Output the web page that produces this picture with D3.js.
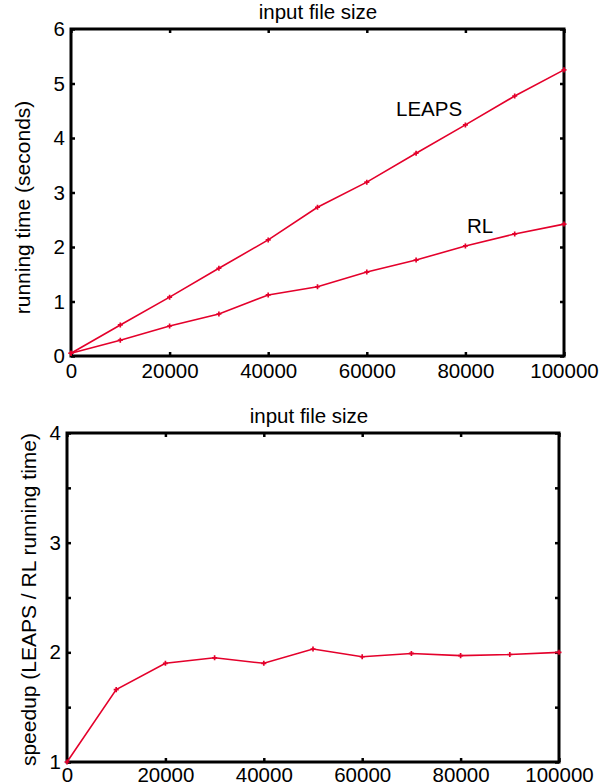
<!DOCTYPE html>
<html>
<head>
<meta charset="utf-8">
<script src="https://cdn.jsdelivr.net/npm/d3@7"></script>
<style>
  body { margin: 0; background: #fff; }
  text { font-family: "Liberation Sans", Arial, Helvetica, sans-serif; }
</style>
</head>
<body>
<div id="chart"></div>
<script>
// data
var fileSizes = [0, 10000, 20000, 30000, 40000, 50000, 60000, 70000, 80000, 90000, 100000];
var leapsTime = [0.05, 0.57, 1.08, 1.61, 2.13, 2.73, 3.19, 3.72, 4.24, 4.77, 5.25];
var rlTime = [0.05, 0.29, 0.55, 0.77, 1.12, 1.27, 1.54, 1.76, 2.02, 2.24, 2.42];
var speedup = [1.0, 1.66, 1.90, 1.95, 1.90, 2.03, 1.96, 1.99, 1.97, 1.98, 2.0];
var xTicks = [0, 20000, 40000, 60000, 80000, 100000];
var timeTicks = [0, 1, 2, 3, 4, 5, 6];
var speedTicks = [1, 2, 3, 4];
var speedMinorTicks = [1.5, 2.5, 3.5];

var lineColor = "#e4002b";

var svg = d3
  .select("#chart")
  .append("svg")
  .attr("width", 610)
  .attr("height", 783);

// draws one framed panel, returns the scales
function drawPanel(box, yDomain, yTicks, yMinor, opts) {
  var x = d3.scaleLinear().domain([0, 100000]).range([box.left, box.right]);
  var y = d3.scaleLinear().domain(yDomain).range([box.bottom, box.top]);
  var g = svg.append("g");

  // inner ticks on all four sides
  var allY = yTicks.concat(yMinor);
  g.append("g")
    .attr("transform", "translate(0," + box.bottom + ")")
    .call(d3.axisBottom(x).tickValues(xTicks).tickSize(-4).tickPadding(opts.xPad).tickFormat(d3.format("d")))
    .call(function (a) { a.select(".domain").remove(); });
  g.append("g")
    .attr("transform", "translate(0," + box.top + ")")
    .call(d3.axisTop(x).tickValues(xTicks).tickSize(-4).tickFormat(""))
    .call(function (a) { a.select(".domain").remove(); });
  g.append("g")
    .attr("transform", "translate(" + box.left + ",0)")
    .call(d3.axisLeft(y).tickValues(allY).tickSize(-4).tickPadding(6)
      .tickFormat(function (d) { return yTicks.indexOf(d) >= 0 ? d : ""; }))
    .call(function (a) { a.select(".domain").remove(); });
  g.append("g")
    .attr("transform", "translate(" + box.right + ",0)")
    .call(d3.axisRight(y).tickValues(allY).tickSize(-4).tickFormat(""))
    .call(function (a) { a.select(".domain").remove(); });

  g.selectAll(".tick line").attr("stroke", "#000").attr("stroke-width", 2.5);
  g.selectAll(".tick text")
    .style("font-size", "20.5px")
    .style("font-family", "'Liberation Sans', Arial, sans-serif")
    .attr("fill", "#000");

  // frame
  g.append("rect")
    .attr("x", box.left)
    .attr("y", box.top)
    .attr("width", box.right - box.left)
    .attr("height", box.bottom - box.top)
    .attr("fill", "none")
    .attr("stroke", "#000")
    .attr("stroke-width", 3);

  // title
  g.append("text")
    .attr("x", opts.titleX)
    .attr("y", box.top - 10)
    .attr("text-anchor", "middle")
    .style("font-size", "20.5px")
    .text("input file size");

  // y label
  g.append("text")
    .attr("transform", "translate(" + opts.labelX + "," + opts.labelY + ") rotate(-90)")
    .attr("text-anchor", opts.labelAnchor)
    .style("font-size", "21px")
    .text(opts.label);

  return { x: x, y: y, g: g };
}

function drawSeries(p, values) {
  var pts = fileSizes.map(function (d, i) { return [d, values[i]]; });
  var line = d3.line()
    .x(function (d) { return p.x(d[0]); })
    .y(function (d) { return p.y(d[1]); });
  p.g.append("path")
    .datum(pts)
    .attr("d", line)
    .attr("fill", "none")
    .attr("stroke", lineColor)
    .attr("stroke-width", 1.6);
  p.g.selectAll(null)
    .data(pts)
    .enter()
    .append("path")
    .attr("transform", function (d) { return "translate(" + p.x(d[0]) + "," + p.y(d[1]) + ")"; })
    .attr("d", d3.symbol().type(d3.symbolCross).size(14))
    .attr("fill", lineColor);
}

// top panel: running time
var timePanel = drawPanel({ left: 71, right: 564, top: 29, bottom: 356 }, [0, 6], timeTicks, [], {
  xPad: 7, titleX: 318, labelX: 30, labelY: 207.5, labelAnchor: "middle",
  label: "running time (seconds)"
});
drawSeries(timePanel, leapsTime);
drawSeries(timePanel, rlTime);

timePanel.g.append("text")
  .attr("x", 396)
  .attr("y", 116)
  .style("font-size", "20.5px")
  .text("LEAPS");
timePanel.g.append("text")
  .attr("x", 467)
  .attr("y", 233)
  .style("font-size", "20.5px")
  .text("RL");

// bottom panel: speedup
var speedPanel = drawPanel({ left: 67, right: 559, top: 433, bottom: 762 }, [1, 4], speedTicks, speedMinorTicks, {
  xPad: 5, titleX: 309, labelX: 36, labelY: 433, labelAnchor: "end",
  label: "speedup (LEAPS / RL running time)"
});
drawSeries(speedPanel, speedup);
</script>
</body>
</html>
